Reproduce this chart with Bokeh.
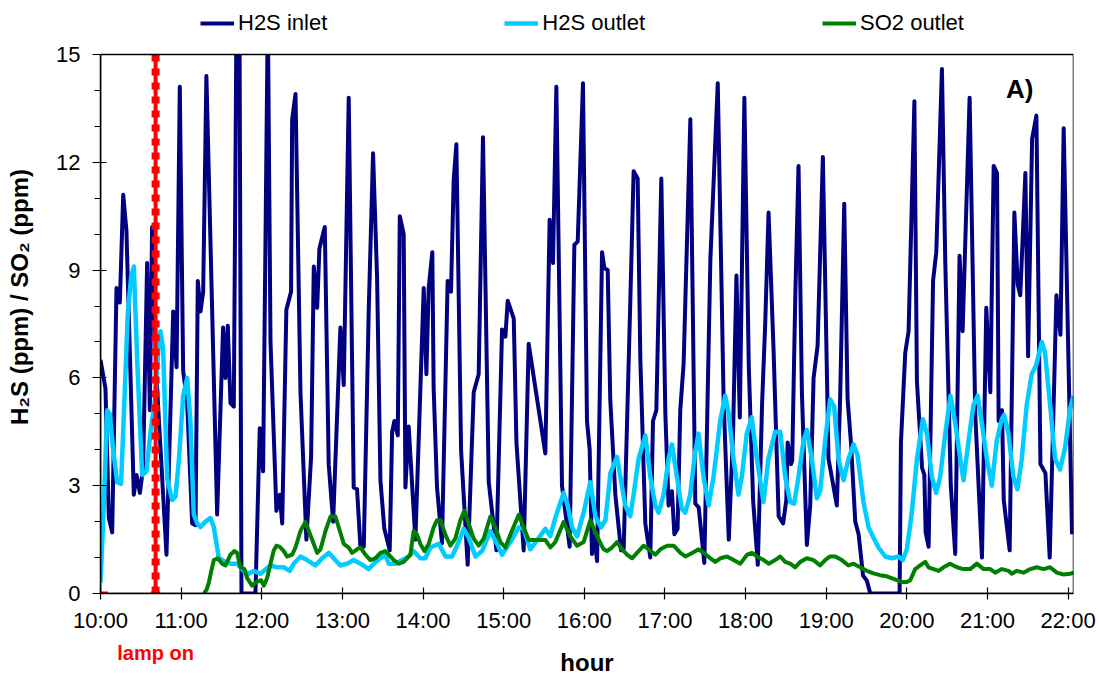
from bokeh.plotting import figure
from bokeh.models import Range1d, FixedTicker, Legend, LegendItem, Label, LinearAxis, BoxAnnotation
from bokeh.embed import file_html
from bokeh.resources import INLINE

# ---- data: time in minutes after 10:00, concentrations in ppm ----
inlet_t = [0, 3.7, 6.2, 8.7, 11.9, 14.4, 16.9, 19.3, 24.8, 26.8, 29.3, 31.7, 34.7, 36.7, 38.4, 41.7,
           49.1, 54.1, 56.6, 59.0, 61.5, 64.5, 68.2, 70.7, 72.4, 74.4, 76.4, 78.8, 86.8, 91.2, 93.0,
           94.7, 96.7, 99.2, 101.2, 103.4, 104.9, 115.3, 118.5, 121.0, 124.5, 126.5, 130.9, 133.4,
           135.2, 138.3, 141.8, 142.6, 145.1, 148.8, 153.2, 156.7, 158.7, 161.2, 162.9, 166.9, 169.8,
           173.1, 178.5, 181.0, 184.7, 188.4, 190.9, 193.4, 195.9, 199.6, 202.8, 205.8, 208.3, 211.2,
           215.2, 217.0, 218.7, 221.2, 222.7, 225.6, 226.9, 229.3, 234.3, 240.5, 242.5, 244.2, 246.9,
           247.9, 250.4, 254.1, 258.3, 260.8, 262.8, 264.8, 268.3, 273.2, 277.7, 281.4, 284.6, 288.9,
           294.6, 298.8, 301.3, 303.0, 307.5, 309.5, 314.9, 318.6, 331.0, 334.2, 336.7, 339.2, 343.4,
           349.1, 352.6, 355.1, 359.0, 362.0, 364.0, 365.7, 367.5, 369.5, 373.2, 374.9, 377.4, 379.3,
           383.1, 387.3, 389.3, 394.2, 396.7, 399.7, 401.7, 405.4, 409.1, 411.1, 413.6, 417.3, 420.3,
           422.7, 425.2, 427.0, 429.4, 431.4, 433.9, 438.9, 442.6, 445.1, 449.3, 453.8, 459.3, 463.7,
           467.5, 470.7, 473.2, 475.7, 479.1, 482.4, 485.6, 489.1, 492.3, 494.6, 497.1, 500.8, 504.6,
           507.9, 510.3, 511.3, 513.8, 514.7, 517.0, 519.4, 521.9, 525.6, 528.1, 530.6, 533.6, 537.5,
           541.7, 547.9, 550.4, 553.4, 555.9, 558.4, 561.6, 564.1, 567.4, 570.3, 572.8, 594.6, 595.6,
           598.8, 601.3, 605.6, 607.5, 611.3, 613.0, 614.0, 616.2, 619.5, 621.9, 626.1, 628.6, 632.7,
           636.0, 639.2, 641.5, 646.7, 650.9, 655.9, 659.1, 662.1, 664.6, 667.1, 668.3, 670.8, 672.1,
           676.5, 680.0, 682.5, 684.4, 688.2, 690.2, 693.2, 696.4, 699.4, 703.1, 706.3, 711.3, 714.3,
           716.7, 722.9]
inlet_ppm = [6.5, 5.7, 2.1, 1.7, 8.5, 8.1, 11.1, 10.1, 2.75, 3.3, 2.8, 3.5, 9.2, 5.1, 10.2, 6.0,
             1.08, 7.85, 6.3, 14.1, 6.2, 5.3, 1.95, 1.9, 8.7, 7.85, 8.4, 14.4, 2.2, 7.4, 6.0,
             7.45, 5.3, 5.2, 16.2, 16.2, 0, 0, 4.6, 3.4, 16.2, 7.0, 2.3, 2.75,
             1.95, 7.9, 8.4, 13.2, 13.9, 5.6, 1.5, 3.8, 9.1, 7.95, 9.6, 10.2, 3.6,
             2.0, 7.4, 5.8, 13.8, 2.95, 2.9, 1.3, 1.3, 7.9, 12.25, 8.8, 3.15, 1.8,
             1.2, 4.5, 4.8, 4.4, 10.5, 10.0, 2.95, 4.65, 1.5, 8.5, 6.1, 8.5, 9.5,
             5.7, 2.95, 1.4, 8.7, 8.4, 11.5, 12.5, 4.0, 0.8, 5.6, 6.1, 12.7, 3.1,
             1.2, 7.35, 7.15, 8.15, 7.65, 4.2, 1.2, 6.95, 3.9, 10.4, 9.2, 14.1, 3.0,
             1.3, 9.7, 9.8, 14.2, 4.8, 4.0, 1.1, 1.6, 0.9, 9.5, 9.05, 9.0, 5.4,
             2.75, 1.2, 1.25, 8.1, 11.75, 11.55, 6.5, 1.95, 1.0, 4.8, 5.1, 11.55, 5.0,
             2.45, 2.85, 1.65, 1.8, 5.1, 6.4, 13.2, 2.5, 2.4, 0.85, 9.3, 14.2, 5.3,
             1.5, 4.5, 8.85, 4.9, 13.8, 6.3, 2.6, 0.8, 5.3, 7.5, 10.6, 6.8, 2.15,
             1.95, 2.6, 4.2, 3.6, 3.7, 8.3, 11.9, 5.6, 1.35, 2.45, 6.0, 6.9, 12.15,
             3.75, 2.45, 5.5, 10.85, 5.4, 4.2, 2.0, 1.65, 0.5, 0.35, 0, 0, 4.2,
             6.7, 7.3, 13.7, 5.9, 3.5, 3.3, 1.7, 1.3, 8.7, 9.5, 14.6, 9.2, 3.0,
             1.1, 9.4, 7.3, 13.8, 5.0, 1.0, 7.95, 5.6, 11.9, 11.7, 4.8, 5.1, 2.6,
             1.2, 10.6, 8.6, 8.3, 11.7, 6.6, 12.65, 13.3, 3.6, 3.35, 1.0, 8.3, 7.2,
             12.95, 1.65]

outlet_t = [0, 2.5, 5.0, 6.9, 9.4, 12.4, 15.3, 17.4, 20.3, 22.8, 24.8, 27.3, 31.0, 34.2, 37.2, 40.9,
            43.4, 44.6, 46.6, 49.6, 53.3, 55.8, 58.3, 61.5, 64.5, 66.9, 69.4, 71.9, 74.4, 78.1, 81.8,
            84.3, 88.0, 91.7, 96.7, 101.6, 106.6, 110.3, 114.0, 119.0, 123.9, 126.5, 131.4, 136.3,
            140.8, 143.8, 148.8, 153.7, 159.9, 164.9, 169.8, 173.5, 178.5, 183.4, 188.4, 193.4, 199.6,
            203.3, 208.3, 212.0, 214.5, 219.4, 224.4, 229.3, 233.0, 238.0, 241.7, 245.4, 251.7, 256.7,
            261.6, 265.3, 270.3, 274.0, 279.0, 283.9, 290.1, 295.1, 298.8, 305.0, 311.2, 314.9, 319.8,
            324.8, 331.0, 334.7, 338.4, 344.6, 347.6, 350.9, 354.6, 359.5, 364.5, 368.2, 372.5, 375.7,
            379.4, 384.3, 386.8, 390.5, 394.2, 396.7, 400.4, 405.4, 409.1, 412.8, 415.3, 419.0, 422.7,
            425.2, 428.9, 432.6, 435.1, 438.8, 442.5, 445.0, 448.7, 452.5, 456.2, 461.1, 464.8, 467.3,
            471.0, 474.7, 477.2, 480.9, 484.6, 488.4, 493.3, 497.0, 502.0, 505.8, 509.5, 513.2, 516.2,
            519.4, 523.1, 525.6, 529.3, 533.0, 535.5, 539.2, 542.9, 545.9, 549.1, 552.9, 556.6, 560.3,
            563.3, 567.7, 571.5, 575.2, 578.9, 583.9, 588.8, 593.8, 597.0, 600.0, 603.7, 607.5, 611.9,
            614.9, 618.6, 621.8, 624.8, 628.6, 632.5, 636.0, 639.7, 642.2, 645.9, 649.6, 652.6, 655.8,
            659.5, 663.2, 666.9, 670.6, 672.4, 675.6, 679.3, 682.3, 685.5, 689.2, 692.9, 696.2, 700.4,
            702.8, 706.6, 710.3, 714.0, 717.7, 721.5, 723.9]
outlet_ppm = [0.3, 2.5, 5.1, 5.0, 4.0, 3.1, 3.05, 5.0, 7.8, 8.8, 9.1, 6.5, 3.3, 3.4, 4.5, 5.5,
              7.0, 7.3, 6.8, 3.2, 2.6, 2.7, 3.7, 5.5, 6.0, 4.8, 2.2, 1.95, 1.85, 2.0, 2.1,
              1.85, 1.0, 0.9, 0.83, 0.83, 0.63, 0.55, 0.63, 0.55, 0.7, 0.78, 0.73, 0.73,
              0.63, 0.83, 1.03, 0.93, 0.78, 0.98, 1.13, 0.98, 0.78, 0.83, 0.93, 0.83, 0.68,
              0.83, 0.98, 1.08, 0.83, 0.83, 0.93, 1.03, 1.18, 0.98, 0.98, 1.28, 1.38, 1.03,
              1.03, 1.33, 1.8, 1.55, 1.03, 1.18, 1.74, 1.38, 1.08, 1.43, 1.84, 1.8, 1.23,
              1.48, 1.8, 1.6, 2.1, 2.8, 2.45, 1.84, 1.59, 2.25, 3.1, 2.15, 1.84, 2.04,
              3.35, 3.8, 3.25, 2.45, 2.15, 2.75, 3.75, 4.4, 3.25, 2.45, 2.25, 2.75, 3.75,
              4.15, 3.25, 2.35, 2.25, 2.75, 3.95, 4.45, 3.25, 2.45, 3.25, 4.8, 5.5, 5.05,
              3.75, 2.75, 3.25, 4.45, 4.9, 3.75, 2.55, 3.75, 4.5, 4.5, 3.25, 2.55, 2.5,
              3.25, 4.25, 4.55, 3.75, 2.65, 2.85, 4.25, 5.4, 5.2, 3.75, 3.15, 3.75, 4.15,
              3.85, 2.55, 1.84, 1.55, 1.28, 1.03, 0.98, 1.03, 0.93, 1.23, 2.25, 3.75, 4.85,
              4.45, 3.25, 2.8, 3.25, 4.45, 5.5, 4.75, 3.75, 3.15, 4.25, 5.25, 5.5, 4.75,
              3.75, 3.0, 4.25, 4.85, 4.97, 4.45, 3.25, 2.9, 3.75, 5.25, 6.1, 6.35, 7.0,
              6.7, 5.25, 3.75, 3.45, 4.05, 5.15, 5.5]

so2_t = [76.9, 78.9, 80.6, 82.3, 84.3, 87.3, 90.5, 93.0, 96.7, 99.7, 101.6, 104.1, 107.1, 109.1,
         112.8, 116.0, 119.5, 121.5, 124.0, 126.5, 128.9, 130.9, 133.4, 136.4, 138.8, 142.6, 145.1,
         148.8, 152.5, 155.0, 158.7, 161.2, 163.7, 167.4, 171.1, 174.8, 178.5, 181.0, 184.7, 187.2,
         190.9, 193.4, 197.1, 200.8, 204.5, 208.3, 212.0, 214.5, 218.2, 221.9, 225.6, 230.6, 233.0,
         235.5, 238.0, 241.0, 244.2, 247.9, 250.4, 252.9, 256.6, 260.3, 264.0, 267.8, 270.7, 274.0,
         277.7, 281.4, 285.1, 290.1, 293.8, 297.6, 301.3, 305.0, 311.2, 314.9, 318.6, 324.8, 331.0,
         334.7, 338.4, 344.6, 349.6, 354.6, 359.5, 364.5, 369.5, 374.4, 376.9, 380.6, 384.3, 388.1,
         391.8, 395.5, 399.2, 404.2, 407.9, 412.9, 416.6, 421.6, 426.5, 431.5, 435.2, 440.2, 445.1,
         448.8, 453.8, 457.5, 461.2, 466.2, 471.1, 476.1, 481.1, 484.8, 488.5, 493.5, 497.2, 502.0,
         505.8, 509.5, 513.2, 516.9, 520.7, 525.6, 530.6, 535.5, 539.2, 542.9, 546.7, 551.6, 556.6,
         560.3, 565.3, 570.2, 575.2, 580.1, 585.1, 590.1, 596.3, 600.0, 602.5, 606.2, 609.9, 613.7,
         616.1, 619.9, 623.6, 627.3, 632.2, 637.2, 642.2, 647.1, 652.1, 657.1, 662.0, 665.7, 670.7,
         675.7, 678.1, 681.9, 686.8, 691.8, 696.7, 701.7, 706.6, 711.6, 716.6, 721.5, 724.0]
so2_ppm = [0, 0.1, 0.3, 0.6, 0.93, 0.98, 0.83, 0.78, 1.08, 1.18, 1.13, 0.73, 0.68, 0.43,
           0.22, 0.32, 0.37, 0.22, 0.43, 0.83, 1.2, 1.33, 1.3, 1.18, 1.03, 1.08, 1.28,
           1.74, 1.99, 1.74, 1.38, 1.13, 1.23, 1.74, 2.14, 2.14, 1.69, 1.38, 1.28, 1.13,
           1.23, 1.28, 1.08, 0.93, 0.98, 1.13, 1.18, 1.08, 0.93, 0.83, 0.88, 1.08, 1.74,
           1.64, 1.38, 1.18, 1.38, 1.84, 2.04, 2.04, 1.64, 1.33, 1.53, 2.04, 2.3, 1.94,
           1.53, 1.33, 1.53, 2.14, 1.84, 1.43, 1.28, 1.64, 2.19, 1.84, 1.49, 1.49, 1.49,
           1.28, 1.43, 1.99, 1.59, 1.33, 1.43, 2.04, 1.59, 1.23, 1.18, 1.28, 1.43, 1.23,
           1.08, 0.98, 1.13, 1.33, 1.23, 1.08, 1.23, 1.33, 1.33, 1.13, 1.03, 1.13, 1.23,
           1.13, 0.98, 0.88, 0.98, 1.03, 0.93, 0.83, 1.08, 1.13, 1.03, 0.93, 0.83, 0.93,
           1.03, 0.88, 0.83, 0.73, 0.88, 0.98, 0.93, 0.78, 0.93, 1.03, 1.03, 0.93, 0.78,
           0.83, 0.73, 0.63, 0.56, 0.51, 0.48, 0.41, 0.32, 0.32, 0.37, 0.68, 0.78, 0.88,
           0.73, 0.68, 0.63, 0.73, 0.83, 0.73, 0.68, 0.68, 0.83, 0.68, 0.68, 0.58, 0.68,
           0.63, 0.55, 0.63, 0.58, 0.68, 0.73, 0.68, 0.73, 0.58, 0.53, 0.55, 0.58]

lamp_on_t = 41                      # lamp switched on at 10:41
lamp_mark_x0 = [0, 37.5]            # short lamp-series stubs along the zero line
lamp_mark_x1 = [5.5, 44.5]

tick_minutes = [0, 60, 120, 180, 240, 300, 360, 420, 480, 540, 600, 660, 720]
tick_labels = ["10:00", "11:00", "12:00", "13:00", "14:00", "15:00", "16:00",
               "17:00", "18:00", "19:00", "20:00", "21:00", "22:00"]
y_ticks = [0, 3, 6, 9, 12, 15]
X_END = 724                         # 22:04
Y_MAX = 15                          # top of the plotted value scale
Y_TOP = 16.503                      # range top, leaves a strip above the box for the legend

FONT = "Liberation Sans"

p = figure(width=1099, height=678, output_backend="svg", toolbar_location=None,
           x_range=Range1d(0, X_END), y_range=Range1d(0, Y_TOP),
           min_border_left=100, min_border_right=26, min_border_top=0, min_border_bottom=85,
           background_fill_color="white", border_fill_color="white")

p.xgrid.grid_line_color = None
p.ygrid.grid_line_color = None
p.outline_line_color = None

# x axis: hour ticks
xa = p.xaxis[0]
xa.ticker = FixedTicker(ticks=tick_minutes)
xa.major_label_overrides = {m: lab for m, lab in zip(tick_minutes, tick_labels)}
xa.minor_tick_line_color = None
xa.major_tick_in = 6
xa.major_tick_out = 6
xa.axis_line_width = 1.5
xa.axis_line_color = "black"
xa.major_tick_line_color = "black"
xa.major_tick_line_width = 1.2
xa.major_label_text_font = FONT
xa.major_label_text_font_size = "22px"
xa.major_label_text_color = "black"
xa.major_label_standoff = 8

# second, line-less x axis carrying the lamp-on note and the axis title
lamp_axis = LinearAxis(ticker=FixedTicker(ticks=[lamp_on_t]),
                       major_label_overrides={lamp_on_t: "lamp on"},
                       axis_line_color=None, major_tick_line_color=None,
                       minor_tick_line_color=None, major_tick_in=0, major_tick_out=0,
                       minor_tick_in=0, minor_tick_out=0,
                       major_label_text_color="red", major_label_text_font=FONT,
                       major_label_text_font_style="bold", major_label_text_font_size="20px",
                       major_label_standoff=6,
                       axis_label="hour", axis_label_text_font=FONT,
                       axis_label_text_font_style="bold", axis_label_text_font_size="24px",
                       axis_label_text_color="black", axis_label_standoff=-18)
p.add_layout(lamp_axis, "below")

# y axis
ya = p.yaxis[0]
ya.bounds = (0, Y_MAX)
ya.ticker = FixedTicker(ticks=y_ticks, minor_ticks=list(range(16)))
ya.major_tick_in = 6
ya.major_tick_out = 8
ya.minor_tick_in = 0
ya.minor_tick_out = 6
ya.axis_line_width = 1.5
ya.axis_line_color = "black"
ya.major_tick_line_color = "black"
ya.minor_tick_line_color = "black"
ya.major_tick_line_width = 1.2
ya.minor_tick_line_width = 1.2
ya.major_label_text_font = FONT
ya.major_label_text_font_size = "22px"
ya.major_label_text_color = "black"
ya.major_label_standoff = 12
ya.axis_label = "H₂S (ppm) / SO₂ (ppm)"
ya.axis_label_text_font = FONT
ya.axis_label_text_font_style = "bold"
ya.axis_label_text_font_size = "24px"
ya.axis_label_text_color = "black"
ya.axis_label_standoff = 20

# series
r_in = p.line(inlet_t, inlet_ppm, color="#000080", line_width=4, line_join="round")
r_out = p.line(outlet_t, outlet_ppm, color="#00CCFF", line_width=4.5, line_join="round")
r_so2 = p.line(so2_t, so2_ppm, color="#008000", line_width=4, line_join="round")

# lamp-on marker
p.segment(x0=lamp_mark_x0, y0=[0, 0], x1=lamp_mark_x1, y1=[0, 0], color="red", line_width=4)
p.line([lamp_on_t, lamp_on_t], [0, Y_MAX], color="red", line_width=4)
p.line([lamp_on_t, lamp_on_t], [0, Y_MAX], color="red", line_width=8, line_dash="7 7",
       line_cap="butt")

# values above the scale are cut at the top of the box; the box gets a black border
p.add_layout(BoxAnnotation(bottom=Y_MAX, top=Y_TOP * 2, left=-X_END, right=X_END * 2,
                           fill_color="white", fill_alpha=1.0, line_color=None))
p.add_layout(BoxAnnotation(top=Y_MAX, fill_alpha=0.0, line_color="black", line_width=1.5,
                           line_alpha=1.0))

p.add_layout(Label(x=684, y=14.05, text="A)", text_color="black",
                   text_font=FONT, text_font_style="bold", text_font_size="26px",
                   text_align="center", text_baseline="middle"))

legend = Legend(items=[LegendItem(label="H2S inlet", renderers=[r_in]),
                       LegendItem(label="H2S outlet", renderers=[r_out]),
                       LegendItem(label="SO2 outlet", renderers=[r_so2])],
                orientation="horizontal", location=(100, 557), padding=0, margin=0,
                spacing=177, glyph_width=34, glyph_height=22, label_height=22,
                label_standoff=4, label_text_font=FONT, label_text_font_size="22px",
                label_text_color="black", border_line_color=None,
                background_fill_alpha=0)
p.add_layout(legend)

open("out.html", "w").write(file_html(p, INLINE))
